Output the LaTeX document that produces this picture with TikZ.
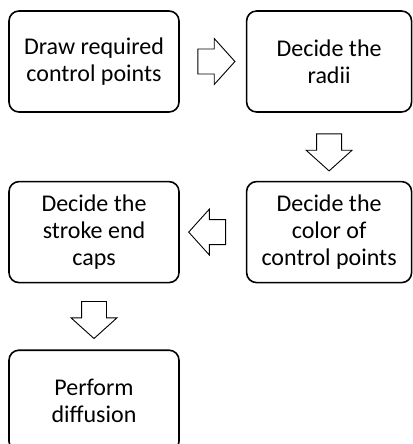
\documentclass[tikz,border=0pt]{standalone}
\usepackage{fontspec}
\setmainfont{Carlito}
\usetikzlibrary{positioning}
\usetikzlibrary{calc}
\usetikzlibrary{shapes.arrows}

\begin{document}
\begin{tikzpicture}[
    node distance=68pt and 66pt, % vertical and horizontal gaps between boxes
    ]
% -------------------------------------------------
\tikzset{
  stage/.style={draw, line width=1.6pt, rounded corners=10pt, align=center,
    minimum width=170pt, minimum height=101pt, inner sep=2pt,
    font=\fontsize{24pt}{27pt}\selectfont},
  stageright/.style={stage, minimum width=165pt},
  bigarrow/.style={draw, line width=0.9pt, single arrow, inner xsep=0pt, inner ysep=12pt,
    minimum height=37pt, single arrow head extend=10.5pt, single arrow tip angle=96}
}

\useasboundingbox (0,0) rectangle (412pt,-444pt);

\node [stage] (draw) at (94pt,-61.5pt) {Draw required\\control points};
\node [stageright, right=of draw] (radii) {Decide the\\radii};
\node [stageright, below=of radii] (color) {Decide the\\color of\\control points};
\node [stage, left=of color] (caps) {Decide the\\stroke end\\caps};
\node [stage, below=66pt of caps] (diff) {Perform\\diffusion};

\node [bigarrow] (a1) at ($(draw.east)!0.47!(radii.west)$) {};
\node [bigarrow, rotate=-90] (a2) at ($(radii.south)!0.5!(color.north)$) {};
\node [bigarrow, rotate=180] (a3) at ($(caps.east)!0.5!(color.west)$) {};
\node [bigarrow, rotate=-90] (a4) at ($(caps.south)!0.47!(diff.north)$) {};

\end{tikzpicture}
\end{document}
